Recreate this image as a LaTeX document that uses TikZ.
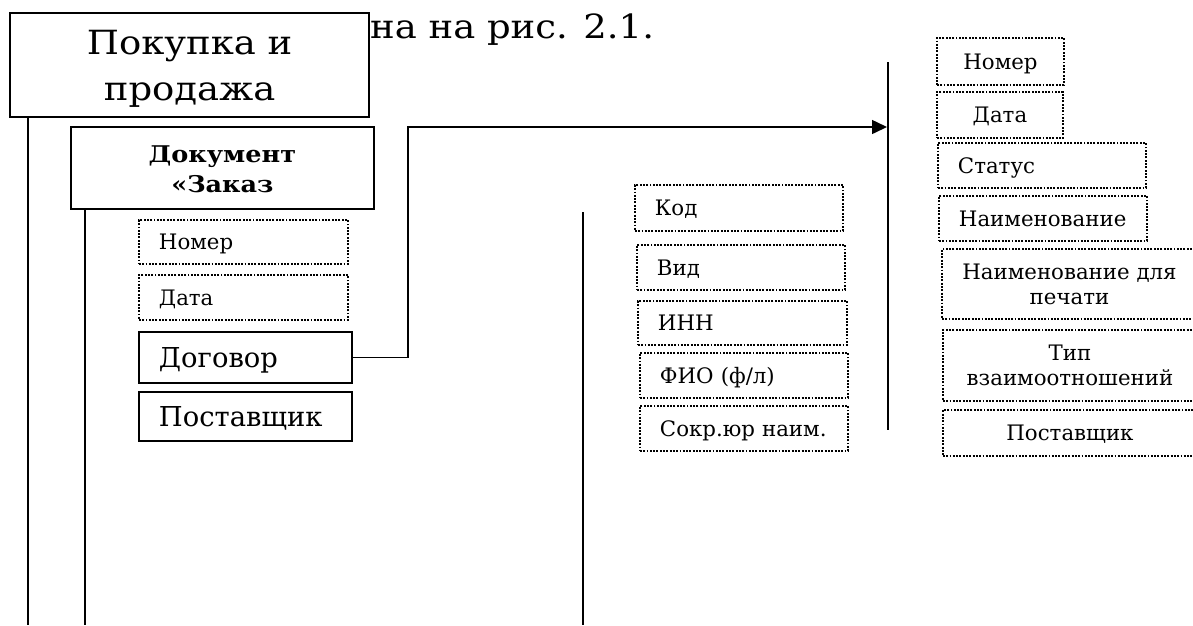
\documentclass[tikz,border=0pt]{standalone}
\usepackage{fontspec}
\setmainfont{DejaVu Serif}
\newfontfamily\widefont[FakeStretch=1.11]{DejaVu Serif}
\usetikzlibrary{arrows.meta,calc}
\tikzset{
  base/.style={rectangle, inner sep=0pt, anchor=north west, text depth=0pt, fill=white},
  solidbox/.style={base, draw, line width=1.8pt},
  dotbox/.style={base, draw, line width=1.9pt, dash pattern=on 1.9pt off 1.4pt},
  small/.style={font=\fontsize{21.3}{25}\selectfont},
  mid/.style={font=\fontsize{27.4}{31}\selectfont},
  lefttext/.style={inner xsep=20pt, align=left},
  vline/.style={line width=1.6pt},
}
\begin{document}
\begin{tikzpicture}[x=1pt,y=-1pt]
\useasboundingbox (0,0) rectangle (1193,625);
% caption text
\node[anchor=base west, inner sep=0pt, font=\widefont\fontsize{33.3}{46}\selectfont] (cap) at (370,38) {на на рис. 2.1.};
% top boxes
\node[solidbox, line width=2.2pt, minimum width=359pt, minimum height=104pt, align=center,
      font=\widefont\fontsize{33.3}{46}\selectfont] (top) at (9,12) {\raisebox{-1.5pt}{Покупка и}\\\raisebox{-1.5pt}{продажа}};
\node[solidbox, line width=1.8pt, minimum width=303pt, minimum height=82pt, align=center,
      font=\widefont\bfseries\fontsize{23}{30}\selectfont] (doc) at (70,126) {\raisebox{-1.5pt}{Документ}\\\raisebox{-1.5pt}{«Заказ}};
% left attribute boxes
\node[dotbox, small, lefttext, text width=169pt, minimum height=44pt, text height=15.5pt] (ln) at (138,219) {Номер};
\node[dotbox, small, lefttext, text width=169pt, minimum height=45pt, text height=15.5pt] (ld) at (138,274) {Дата};
\node[solidbox, mid, lefttext, text width=173pt, minimum height=51pt, text height=20pt] (dog) at (138,331) {Договор};
\node[solidbox, mid, lefttext, text width=173pt, minimum height=49pt, text height=20pt] (post) at (138,391) {Поставщик};
% middle boxes
\node[dotbox, small, lefttext, text width=168pt, minimum height=46pt, text height=15.5pt] (kod) at (634,184) {Код};
\node[dotbox, small, lefttext, text width=168pt, minimum height=45pt, text height=15.5pt] (vid) at (636,244) {Вид};
\node[dotbox, small, lefttext, text width=169pt, minimum height=44pt, text height=15.5pt] (inn) at (637,300) {ИНН};
\node[dotbox, small, lefttext, text width=168pt, minimum height=45pt, text height=15.5pt] (fio) at (639,352) {ФИО (ф/л)};
\node[dotbox, small, lefttext, text width=168pt, minimum height=45pt, text height=15.5pt] (sokr) at (639,405) {\mbox{Сокр.юр наим.}};
% right boxes
\node[dotbox, small, minimum width=127pt, minimum height=47pt, text height=15.5pt] (rn) at (936,37) {Номер};
\node[dotbox, small, minimum width=126pt, minimum height=46pt, text height=15.5pt] (rd) at (936,91) {Дата};
\node[dotbox, small, lefttext, text width=168pt, minimum height=45pt, text height=15.5pt] (rs) at (937,142) {Статус};
\node[dotbox, small, lefttext, text width=168pt, minimum height=45pt, text height=15.5pt] (rname) at (938,195) {Наименование};
\node[dotbox, small, minimum width=255pt, minimum height=70pt, align=center] (rpr) at (941,248) {Наименование для\\печати};
\node[dotbox, small, minimum width=254pt, minimum height=71pt, align=center] (rtype) at (942,329) {Тип\\взаимоотношений};
\node[dotbox, small, minimum width=254pt, minimum height=46pt, text height=15.5pt] (rpost) at (942,409) {Поставщик};
% vertical lines
\coordinate (l1) at (28,625);
\coordinate (l2) at (85,625);
\coordinate (l3top) at (583,212);
\coordinate (l3) at (583,625);
\coordinate (l4top) at (888,62);
\coordinate (l4) at (888,430);
\coordinate (tip) at (887,127);
\draw[vline] (top.south -| l1) -- (l1);
\draw[vline] (doc.south -| l2) -- (l2);
\draw[vline] (l3top) -- (l3);
\draw[vline] (l4top) -- (l4);
% arrow
\draw[line width=1.5pt, -{Triangle[length=15pt,width=14pt]}] (dog.east) -- ++(55,0) |- (tip);
\end{tikzpicture}
\end{document}
